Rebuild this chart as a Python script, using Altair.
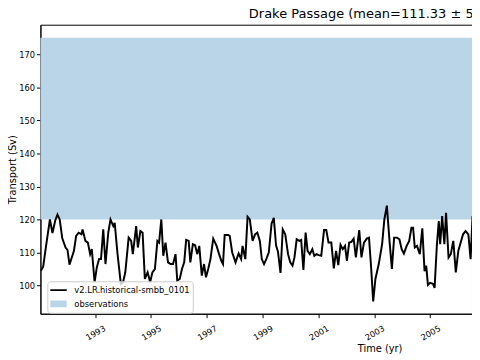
import altair as alt
import pandas as pd

# ---- data ----
years = [
    1991.06, 1991.14, 1991.24, 1991.38, 1991.47, 1991.57, 1991.65, 1991.73, 1991.82, 1991.94,
    1992.01, 1992.08, 1992.24, 1992.32, 1992.41, 1992.51, 1992.55, 1992.65, 1992.74, 1992.82,
    1992.88, 1992.98, 1993.06, 1993.14, 1993.21, 1993.29, 1993.37, 1993.47, 1993.55, 1993.65,
    1993.70, 1993.80, 1993.92, 1994.00, 1994.08, 1994.20, 1994.29, 1994.35, 1994.47, 1994.53,
    1994.62, 1994.70, 1994.78, 1994.88, 1994.97, 1995.05, 1995.14, 1995.23, 1995.29, 1995.37,
    1995.44, 1995.52, 1995.61, 1995.70, 1995.79, 1995.88, 1995.94, 1996.03, 1996.11, 1996.19,
    1996.26, 1996.35, 1996.41, 1996.50, 1996.58, 1996.66, 1996.73, 1996.82, 1996.90, 1996.97,
    1997.05, 1997.13, 1997.23, 1997.35, 1997.44, 1997.52, 1997.58, 1997.64, 1997.76, 1997.82,
    1997.91, 1998.03, 1998.14, 1998.23, 1998.28, 1998.38, 1998.46, 1998.54, 1998.64, 1998.73,
    1998.81, 1998.90, 1998.97, 1999.05, 1999.13, 1999.22, 1999.32, 1999.40, 1999.48, 1999.55,
    1999.64, 1999.72, 1999.81, 1999.91, 1999.99, 2000.07, 2000.14, 2000.22, 2000.31, 2000.38,
    2000.46, 2000.54, 2000.61, 2000.69, 2000.78, 2000.85, 2000.93, 2001.01, 2001.10, 2001.20,
    2001.28, 2001.36, 2001.46, 2001.55, 2001.63, 2001.71, 2001.79, 2001.87, 2001.95, 2002.02,
    2002.10, 2002.18, 2002.26, 2002.34, 2002.46, 2002.54, 2002.63, 2002.73, 2002.81, 2002.89,
    2002.96, 2003.04, 2003.16, 2003.28, 2003.36, 2003.45, 2003.55, 2003.63, 2003.71, 2003.81,
    2003.90, 2003.98, 2004.06, 2004.16, 2004.25, 2004.33, 2004.39, 2004.45, 2004.53, 2004.63,
    2004.72, 2004.80, 2004.86, 2004.92, 2005.00, 2005.10, 2005.16, 2005.24, 2005.31, 2005.36,
    2005.43, 2005.51, 2005.57, 2005.66, 2005.74, 2005.83, 2005.92, 2006.01, 2006.10, 2006.18,
    2006.27, 2006.37, 2006.45, 2006.52, 2006.58,
]
transport = [
    104.5, 105.8, 111.9, 120.0, 115.9, 119.7, 121.5, 120.0, 114.4, 111.5,
    110.8, 106.3, 110.5, 115.0, 116.0, 115.5, 117.0, 113.5, 113.0, 109.5,
    111.0, 101.0, 105.5, 108.0, 108.0, 117.0, 106.5, 116.0, 120.0, 118.0,
    119.0, 109.7, 100.5, 101.0, 104.0, 114.5, 113.5, 109.5, 118.0, 111.5,
    116.5, 116.0, 102.0, 104.0, 101.0, 104.0, 105.0, 113.5, 113.0, 120.0,
    109.0, 113.0, 107.0, 106.5, 106.5, 109.5, 101.5, 102.0, 105.0, 107.0,
    113.8, 113.5, 107.0, 112.5, 112.2, 109.5, 112.0, 103.0, 106.5, 102.5,
    105.0, 108.0, 114.2, 112.0, 109.5, 107.5, 106.5, 115.3, 115.3, 115.0,
    110.0, 107.0, 109.7, 108.0, 112.0, 108.0, 120.8, 120.0, 113.5, 115.5,
    116.0, 113.5, 108.0, 106.5, 108.0, 110.0, 118.7, 120.5, 112.2, 110.2,
    103.8, 117.0, 115.5, 109.5, 107.0, 106.0, 108.5, 114.0, 113.5, 113.8,
    104.7, 116.0, 110.5, 109.5, 111.0, 109.0, 109.5, 109.2, 109.0, 116.8,
    116.8, 113.0, 113.0, 105.2, 110.5, 106.2, 112.3, 111.0, 112.0, 107.5,
    113.0, 113.2, 114.2, 108.5, 116.8, 108.5, 113.0, 114.2, 114.5, 105.0,
    95.2, 102.0, 106.5, 112.5, 120.0, 124.2, 113.0, 105.0, 114.5, 114.5,
    114.0, 111.0, 109.7, 112.0, 113.5, 117.5, 117.5, 111.5, 112.0, 109.5,
    117.3, 104.3, 106.0, 100.2, 100.8, 100.5, 99.3, 112.0, 119.5, 112.5,
    121.0, 112.5, 122.0, 108.5, 109.5, 113.5, 104.0, 110.5, 113.2, 115.5,
    116.5, 115.5, 108.0, 121.0, 114.0,
]
model_name = "v2.LR.historical-smbb_0101"
obs_name = "observations"
obs_low = [120.0]
obs_high = [175.0]
x_ticks = [1993, 1995, 1997, 1999, 2001, 2003, 2005]
y_ticks = [100, 110, 120, 130, 140, 150, 160, 170]
title_text = "Drake Passage (mean=111.33 \u00b1 5.46 Sv)"

line_df = pd.DataFrame({"year": years, "transport": transport, "series": model_name})
band_df = pd.DataFrame({"low": obs_low, "high": obs_high, "series": obs_name})

FONT = "DejaVu Sans"
BAND = "#bad5e8"

color = alt.Color(
    "series:N",
    scale=alt.Scale(domain=[model_name, obs_name], range=["#000000", BAND]),
    legend=alt.Legend(
        title=None,
        orient="none",
        legendX=7,
        legendY=261,
        symbolType="stroke",
        symbolSize=361,
        symbolOffset=3,
        symbolStrokeWidth={"expr": "datum.value === 'observations' ? 7 : 2"},
        symbolStrokeColor={"expr": "datum.value === 'observations' ? '#bad5e8' : '#000000'"},
        symbolFillColor="transparent",
        symbolOpacity=1,
        labelFontSize=8.5,
        labelFont=FONT,
        labelColor="#000000",
        labelOffset=13,
        fillColor="rgba(255,255,255,0.8)",
        strokeColor="#cccccc",
        cornerRadius=3,
        padding=3,
        clipHeight=12,
        rowPadding=2,
    ),
)

x_scale = alt.Scale(domain=[1991.04, 2006.5], nice=False, zero=False)
y_scale = alt.Scale(domain=[91.46, 178.96], nice=False, zero=False)

band = alt.Chart(band_df).mark_rect().encode(
    y=alt.Y("low:Q", scale=y_scale),
    y2="high:Q",
    color=color,
)

line = alt.Chart(line_df).mark_line(strokeWidth=2, clip=True).encode(
    x=alt.X(
        "year:Q",
        scale=x_scale,
        axis=alt.Axis(
            values=x_ticks,
            format="d",
            labelAngle=330,
            labelAlign="center",
            labelBaseline="middle",
            labelPadding=15,
            labelOverlap=False,
            labelFlush=False,
            title="Time (yr)",
            titleX=345,
            titleY=38,
            titleAlign="center",
            titleBaseline="alphabetic",
        ),
    ),
    y=alt.Y(
        "transport:Q",
        scale=y_scale,
        axis=alt.Axis(
            values=y_ticks,
            labelPadding=2,
            title="Transport (Sv)",
            titleX=-28,
            titleY=147,
            titleAngle=270,
            titleAlign="center",
            titleBaseline="middle",
        ),
    ),
    color=color,
)

chart = (
    alt.layer(band, line)
    .properties(
        width=439,
        height=294,
        autosize=alt.AutoSizeParams(type="none"),
        padding={"left": 33, "top": 14, "right": 0, "bottom": 40},
        title=alt.TitleParams(
            title_text,
            anchor="start",
            frame="group",
            dx=212,
            offset=4,
            fontSize=13.2,
            fontWeight="normal",
            font=FONT,
            color="#000000",
        ),
    )
    .configure_view(stroke="#000000", strokeWidth=1)
    .configure_axis(
        grid=False,
        domainColor="#000000",
        tickColor="#000000",
        tickSize=4,
        labelFont=FONT,
        labelFontSize=8.4,
        labelColor="#000000",
        titleFont=FONT,
        titleFontSize=10,
        titleFontWeight="normal",
        titleColor="#000000",
    )
)

chart.save("out.html", embed_options={"renderer": "svg", "actions": False})
